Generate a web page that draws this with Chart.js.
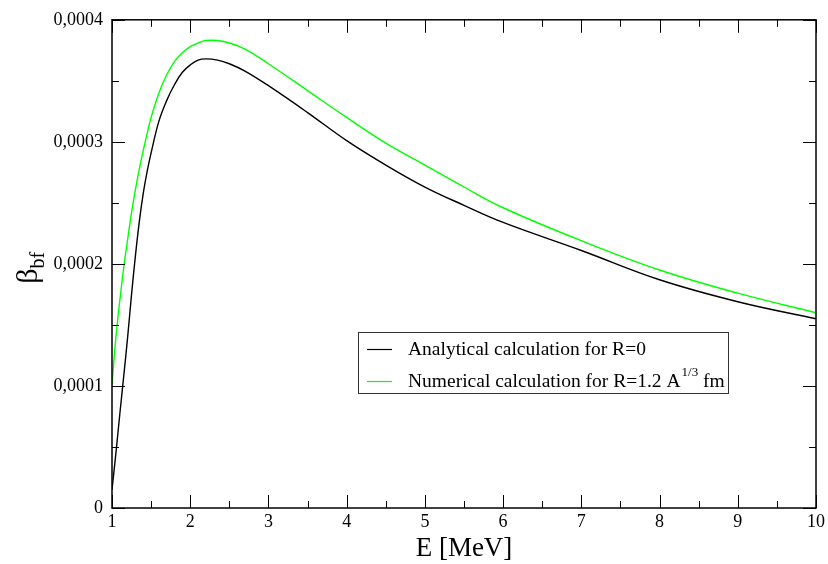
<!DOCTYPE html>
<html>
<head>
<meta charset="utf-8">
<script src="https://cdn.jsdelivr.net/npm/chart.js@4/dist/chart.umd.min.js"></script>
<style>
  html, body { margin: 0; padding: 0; background: #fff; }
  #wrap { width: 828px; height: 564px; }
</style>
</head>
<body>
<div id="wrap"><canvas id="betaChart" width="828" height="564"></canvas></div>
<script>
// Values
const energy = [1.0, 1.05, 1.1, 1.15, 1.2, 1.25, 1.3, 1.35, 1.4, 1.45, 1.5, 1.6, 1.7, 1.8, 1.9,
                2.0, 2.1, 2.2, 2.35, 2.5, 2.7, 3.0, 3.5, 4.0, 4.5, 5.0, 5.5, 6.0, 7.0, 8.0, 9.0, 10.0];
const analytical = [0.000015, 0.000045, 0.000077, 0.000108, 0.000140, 0.000175, 0.000207, 0.000235,
                    0.000258, 0.000276, 0.000291, 0.000317, 0.000334, 0.000347, 0.000357,
                    0.000363, 0.000367, 0.000368, 0.000367, 0.000364, 0.000358, 0.000346,
                    0.000324, 0.000301, 0.000281, 0.000263, 0.000248, 0.000234, 0.000211,
                    0.000187, 0.000169, 0.000155];
const numerical = [0.000101, 0.000140, 0.000170, 0.000197, 0.000220, 0.000242, 0.000261, 0.000278,
                   0.000293, 0.000307, 0.000320, 0.000340, 0.000355, 0.000366, 0.000373,
                   0.000378, 0.000381, 0.000383, 0.000383, 0.000381, 0.000376, 0.000364,
                   0.000342, 0.000320, 0.000299, 0.000281, 0.000263, 0.000246, 0.000219,
                   0.000195, 0.000176, 0.000160];
const seriesColors = ['#000000', '#00ff00'];
// legend labels: [text before superscript, superscript, text after]
const legendLabels = [
    ['Analytical calculation for R=0', '', ''],
    ['Numerical calculation for R=1.2 A', '1/3', ' fm']
];

const serif = '"Liberation Serif", serif';

function toPoints(xs, ys) {
    return xs.map(function(x, i) { return { x: x, y: ys[i] }; });
}

// Frame with inward ticks on all four sides, plus axis titles and legend box
const graceFrame = {
    id: 'graceFrame',
    afterDraw: function(chart) {
        const ctx = chart.ctx;
        const a = chart.chartArea;
        const xs = chart.scales.x;
        const ys = chart.scales.y;
        ctx.save();
        ctx.strokeStyle = '#000';
        ctx.lineWidth = 1.5;
        ctx.strokeRect(a.left, a.top, a.right - a.left, a.bottom - a.top);

        ctx.lineWidth = 1;
        ctx.beginPath();
        xs.ticks.forEach(function(t) {
            const px = Math.round(xs.getPixelForValue(t.value)) + 0.5;
            const major = Math.abs(t.value - Math.round(t.value)) < 1e-6;
            const len = major ? 13 : 7;
            ctx.moveTo(px, a.bottom); ctx.lineTo(px, a.bottom - len);
            ctx.moveTo(px, a.top); ctx.lineTo(px, a.top + len);
        });
        ys.ticks.forEach(function(t) {
            const py = Math.round(ys.getPixelForValue(t.value)) + 0.5;
            const major = Math.round(t.value / 0.00005) % 2 === 0;
            const len = major ? 13 : 7;
            ctx.moveTo(a.left, py); ctx.lineTo(a.left + len, py);
            ctx.moveTo(a.right, py); ctx.lineTo(a.right - len, py);
        });
        ctx.stroke();

        // x title
        ctx.fillStyle = '#000';
        ctx.font = '27px ' + serif;
        ctx.textAlign = 'center';
        ctx.textBaseline = 'alphabetic';
        ctx.fillText('E [MeV]', (a.left + a.right) / 2, 556);

        // y title with subscript
        ctx.save();
        ctx.translate(37, (a.top + a.bottom) / 2 + 4);
        ctx.rotate(-Math.PI / 2);
        ctx.textAlign = 'left';
        ctx.font = '30px ' + serif;
        const bw = ctx.measureText('\u03b2').width;
        const subFont = '20px ' + serif;
        ctx.font = subFont;
        const sw = ctx.measureText('bf').width;
        const start = -(bw + sw) / 2;
        ctx.font = '30px ' + serif;
        ctx.fillText('\u03b2', start, 0);
        ctx.font = subFont;
        ctx.fillText('bf', start + bw, 7);
        ctx.restore();

        // legend
        const box = { left: 358, top: 332, right: 728, bottom: 393 };
        ctx.strokeStyle = '#333';
        ctx.lineWidth = 1;
        ctx.strokeRect(box.left + 0.5, box.top + 0.5, box.right - box.left, box.bottom - box.top);
        const rows = [349, 381];
        ctx.textAlign = 'left';
        ctx.textBaseline = 'middle';
        legendLabels.forEach(function(lab, i) {
            const y = rows[i];
            ctx.strokeStyle = seriesColors[i];
            ctx.lineWidth = 1.2;
            ctx.beginPath();
            ctx.moveTo(367, y + 0.5);
            ctx.lineTo(392, y + 0.5);
            ctx.stroke();
            ctx.fillStyle = '#000';
            ctx.font = '19.5px ' + serif;
            let x = 408;
            ctx.fillText(lab[0], x, y + 1);
            x += ctx.measureText(lab[0]).width;
            if (lab[1]) {
                x += 1;
                ctx.font = '13px ' + serif;
                ctx.fillText(lab[1], x, y - 8);
                x += ctx.measureText(lab[1]).width;
                ctx.font = '19.5px ' + serif;
                ctx.fillText(lab[2], x, y + 1);
            }
        });
        ctx.restore();
    }
};

function drawChart() {
    new Chart(document.getElementById('betaChart'), {
        type: 'line',
        data: {
            datasets: [{
                label: 'Analytical calculation for R=0',
                data: toPoints(energy, analytical),
                borderColor: seriesColors[0],
                borderWidth: 1.4,
                pointRadius: 0,
                tension: 0.4,
                fill: false
            }, {
                label: 'Numerical calculation for R=1.2 A^1/3 fm',
                data: toPoints(energy, numerical),
                borderColor: seriesColors[1],
                borderWidth: 1.4,
                pointRadius: 0,
                tension: 0.4,
                fill: false
            }]
        },
        options: {
            responsive: false,
            animation: false,
            devicePixelRatio: 1,
            layout: { padding: { top: 15, right: 12, left: 0, bottom: 0 } },
            plugins: {
                legend: { display: false },
                tooltip: { enabled: false }
            },
            scales: {
                x: {
                    type: 'linear',
                    min: 1,
                    max: 10,
                    grid: { display: false, drawTicks: false },
                    border: { display: false },
                    afterFit: function(scale) { scale.height = 56; },
                    ticks: {
                        stepSize: 0.5,
                        autoSkip: false,
                        maxRotation: 0,
                        padding: 3,
                        color: '#000',
                        font: { family: serif, size: 18 },
                        callback: function(value) {
                            return Math.abs(value - Math.round(value)) < 1e-6 ? String(Math.round(value)) : '';
                        }
                    }
                },
                y: {
                    type: 'linear',
                    min: 0,
                    max: 0.0004,
                    grid: { display: false, drawTicks: false },
                    border: { display: false },
                    afterFit: function(scale) { scale.width = 112; },
                    ticks: {
                        stepSize: 0.00005,
                        autoSkip: false,
                        padding: 9,
                        color: '#000',
                        font: { family: serif, size: 18 },
                        callback: function(value) {
                            const n = Math.round(value / 0.00005);
                            if (n % 2 !== 0) return '';
                            if (n === 0) return '0';
                            return '0,000' + (n / 2);
                        }
                    }
                }
            }
        },
        plugins: [graceFrame]
    });
}

// make sure the serif face is ready before the canvas draws text
Promise.all([
    document.fonts.load('18px "Liberation Serif"'),
    document.fonts.load('13px "Liberation Serif"')
]).then(drawChart, drawChart);
</script>
</body>
</html>
